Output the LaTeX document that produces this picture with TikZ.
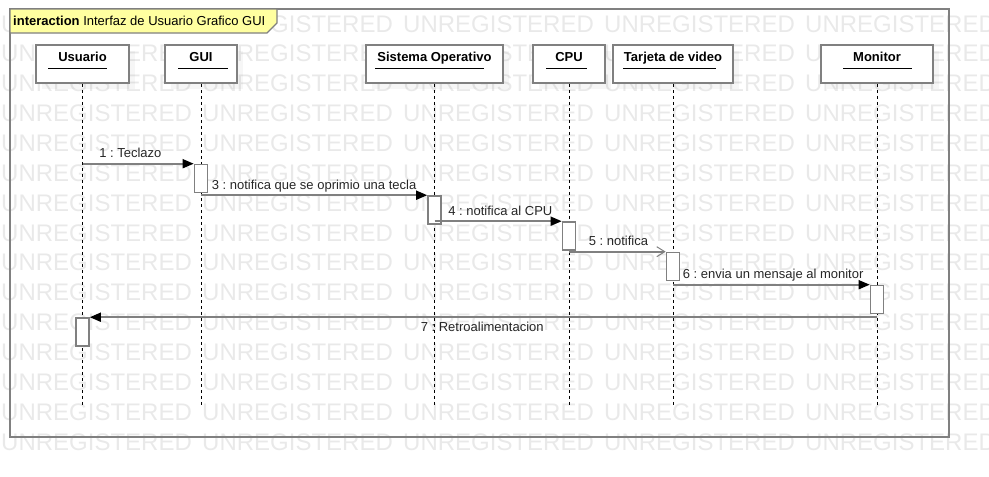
\documentclass[tikz,border=0pt]{standalone}
\usepackage{fontspec}
\setmainfont{Liberation Sans}
\usetikzlibrary{arrows.meta,shadows}
\frenchspacing

\definecolor{umlgray}{RGB}{128,128,128}
\definecolor{tabyellow}{RGB}{255,255,160}
\definecolor{markgray}{RGB}{233,233,233}

\begin{document}
\begin{tikzpicture}[
        x=1pt, y=-1pt,
        frame/.style={
            draw=umlgray,
            line width=1.6pt
        },
        tab/.style={
            draw=umlgray,
            fill=tabyellow,
            line width=1.2pt
        },
        head/.style={
            draw=umlgray,
            fill=white,
            line width=1.6pt,
            minimum height=38pt,
            text height=9.5pt,
            text depth=14pt,
            inner sep=0pt,
            font=\fontsize{13}{15}\selectfont\bfseries,
            drop shadow={shadow xshift=6pt, shadow yshift=-6pt, opacity=0.07}
        },
        activation/.style={
            draw=umlgray,
            fill=white,
            line width=1.6pt,
            minimum width=13pt,
            minimum height=28pt,
            inner sep=0pt
        },
        lifeline/.style={
            draw=black,
            line width=0.9pt,
            dash pattern=on 3pt off 3pt
        },
        msg/.style={
            draw=umlgray,
            line width=1.6pt,
            -{Triangle[length=11pt,width=9pt,color=black]}
        },
        asyncmsg/.style={
            draw=umlgray,
            line width=1.6pt,
            -{Straight Barb[length=8pt,width=10pt,line width=1pt]}
        },
        msglabel/.style={
            anchor=base west,
            pos=0,
            yshift=6pt,
            inner sep=0pt,
            text=black!85,
            font=\fontsize{13}{15}\selectfont
        },
        returnlabel/.style={
            anchor=base west,
            pos=0,
            yshift=-14pt,
            inner sep=0pt,
            text=black!85,
            font=\fontsize{13}{15}\selectfont
        },
        watermark/.style={
            anchor=base west,
            inner sep=0pt,
            text=markgray,
            font=\fontsize{24}{24}\selectfont
        }
    ]

        \useasboundingbox (0,0) rectangle (989,477);

        \foreach \r in {0,...,14}
            \foreach \c in {0,...,4}
                \node[watermark] (wm-\r-\c) at (1+201*\c, 32+29.86*\r) {UNREGISTERED};

        \draw[frame] (10,9) rectangle (949,437);

        \draw[tab] (10,9) -- (277,9) -- (277,23) -- (267,33) -- (10,33) -- cycle;
        \node[anchor=base west, inner sep=0pt, font=\fontsize{13}{15}\selectfont] (title)
            at (13,25.5) {\textbf{interaction} Interfaz de Usuario Grafico GUI};

        \node[head, minimum width=93pt] (usuario) at (82.5,64) {Usuario};
        \node[head, minimum width=72pt] (gui) at (201,64) {GUI};
        \node[head, minimum width=137pt] (sisop) at (434.5,64) {Sistema Operativo};
        \node[head, minimum width=72pt] (cpu) at (569,64) {CPU};
        \node[head, minimum width=120pt] (tarjeta) at (673,64) {Tarjeta de video};
        \node[head, minimum width=112pt] (monitor) at (877,64) {Monitor};

        \foreach \n/\a/\l in {usuario/-34.5/59, gui/-23/50, sisop/-59.5/109,
                              cpu/-23/41, tarjeta/-50/93, monitor/-34/69}
            \draw[line width=0.9pt] ([xshift=\a pt, yshift=-4pt]\n.center) -- ++(\l,0);

        \coordinate (bottom) at (0,405);
        \foreach \n in {usuario,gui,sisop,cpu,tarjeta,monitor}
            \draw[lifeline] (\n.south) -- (\n.south |- bottom);

        \node[activation] (actgui) at (201,178.5) {};
        \node[activation] (actsisop) at (434.5,210) {};
        \node[activation] (actcpu) at (569,236) {};
        \node[activation] (acttarjeta) at (673,266.5) {};
        \node[activation] (actmonitor) at (877,299.5) {};
        \node[activation] (actusuario) at (82.5,332) {};

        \draw[msg] (usuario.south |- actgui.north) -- (actgui.north west)
            node[msglabel, xshift=16pt] {1 : Teclazo};
        \draw[msg] (gui.south |- actsisop.north) -- (actsisop.north west)
            node[msglabel, xshift=10pt] {3 : notifica que se oprimio una tecla};
        \draw[msg] (sisop.south |- actcpu.north) -- (actcpu.north west)
            node[msglabel, xshift=13pt] {4 : notifica al CPU};
        \draw[asyncmsg] (cpu.south |- acttarjeta.north) -- (acttarjeta.north west)
            node[msglabel, xshift=19pt] {5 : notifica};
        \draw[msg] (tarjeta.south |- actmonitor.north) -- (actmonitor.north west)
            node[msglabel, xshift=9pt] {6 : envia un mensaje al monitor};
        \draw[msg] (monitor.south |- actusuario.north) -- (actusuario.north east)
            node[returnlabel, xshift=-457pt] {7 : Retroalimentacion};

    \end{tikzpicture}
\end{document}
